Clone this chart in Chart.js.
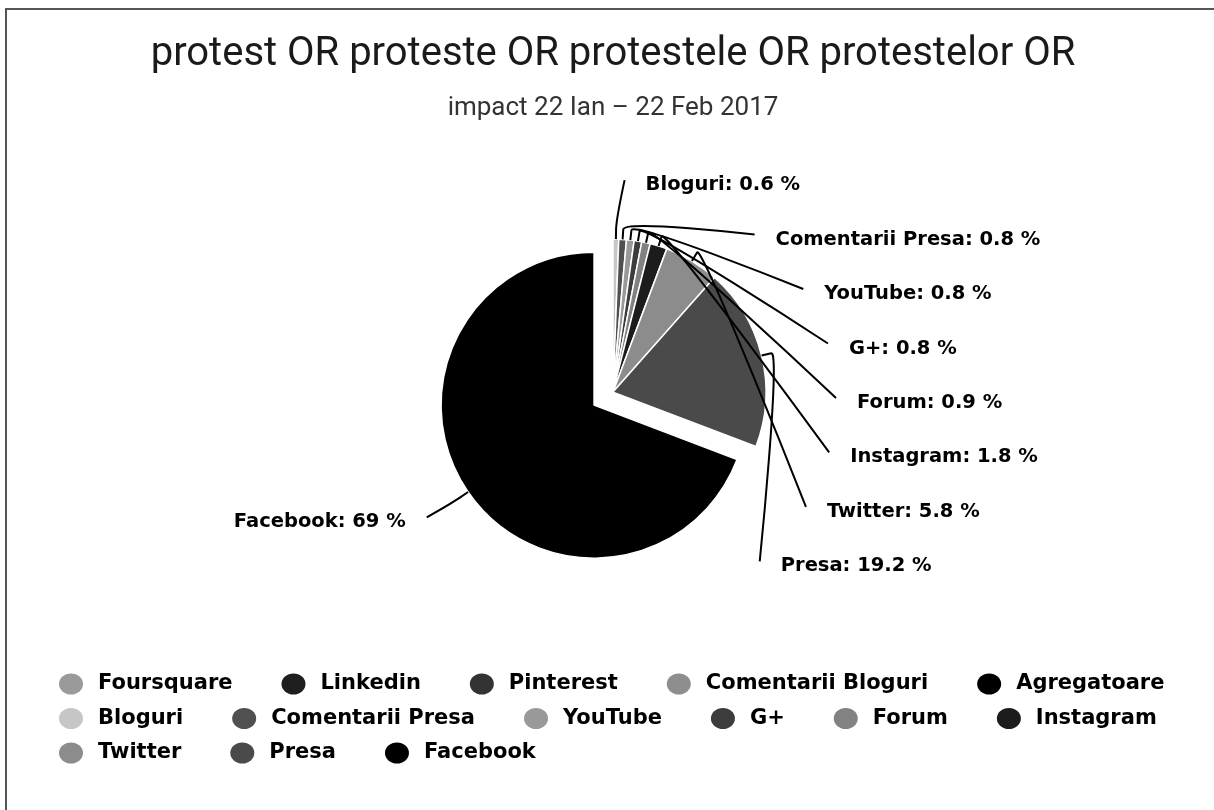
<!DOCTYPE html>
<html>
<head>
<meta charset="utf-8">
<title>protest - impact</title>
<script src="https://cdn.jsdelivr.net/npm/chart.js@4.4.1/dist/chart.umd.min.js"></script>
<style>
  html, body { margin: 0; padding: 0; background: #fff; }
  #wrap { position: relative; width: 1214px; height: 810px; overflow: hidden; }
  #pie { position: absolute; left: 0; top: 0; display: block; }
  #frame { position: absolute; left: 5px; top: 8px; width: 1300px; height: 900px;
           border-left: 2px solid #555; border-top: 2px solid #555; pointer-events: none; }
</style>
</head>
<body>
<div id="wrap">
  <canvas id="pie" width="1214" height="810"></canvas>
  <div id="frame"></div>
</div>
<script>
const sources = ['Foursquare', 'Linkedin', 'Pinterest', 'Comentarii Bloguri', 'Agregatoare',
                 'Bloguri', 'Comentarii Presa', 'YouTube', 'G+', 'Forum', 'Instagram',
                 'Twitter', 'Presa', 'Facebook'];
const shares = [0, 0, 0, 0, 0, 0.6, 0.8, 0.8, 0.8, 0.9, 1.8, 5.8, 19.2, 69];
const shades = ['#9a9a9a', '#1e1e1e', '#333333', '#8e8e8e', '#000000',
                '#c6c6c6', '#505050', '#999999', '#3c3c3c', '#828282', '#1c1c1c',
                '#8c8c8c', '#4a4a4a', '#000000'];
// only Facebook is pulled out of the pie
const sliced = [0, 0, 0, 0, 0, 0, 0, 0, 0, 0, 0, 0, 0, 1];

const titleText = 'protest OR proteste OR protestele OR protestelor OR';
const subtitleText = 'impact 22 Ian \u2013 22 Feb 2017';

// move sliced arcs outward along their middle angle (like a "sliced" point)
const slicePlugin = {
    id: 'slicePlugin',
    afterDatasetUpdate(chart, args, opts) {
        args.meta.data.forEach((arc, i) => {
            if (!sliced[i]) return;
            const mid = (arc.startAngle + arc.endAngle) / 2;
            arc.x += Math.cos(mid) * opts.distance;
            arc.y += Math.sin(mid) * opts.distance;
        });
    }
};

function spread(items, top, bottom, gap) {
    items.sort((a, b) => a.ideal - b.ideal);
    let prev = -Infinity;
    items.forEach(it => {
        it.y = Math.max(it.ideal, top, prev + gap);
        prev = it.y;
    });
    let next = Infinity;
    for (let k = items.length - 1; k >= 0; k--) {
        items[k].y = Math.min(items[k].y, bottom, next - gap);
        next = items[k].y;
    }
}

// data labels with soft connectors
const pieLabels = {
    id: 'pieLabels',
    afterDatasetsDraw(chart, args, o) {
        const ctx = chart.ctx;
        const meta = chart.getDatasetMeta(0);
        const area = chart.chartArea;
        const cx = (area.left + area.right) / 2;
        const cy = (area.top + area.bottom) / 2;
        const r = meta.data[meta.data.length - 1].outerRadius;
        const right = [];
        const left = [];

        meta.data.forEach((arc, i) => {
            if (!shares[i]) return;
            const mid = (arc.startAngle + arc.endAngle) / 2;
            const item = { i, arc, mid, ideal: cy + Math.sin(mid) * r * (1 + o.distance) };
            (Math.cos(mid) >= 0 ? right : left).push(item);
        });
        spread(right, cy - o.top * r, cy + o.bottom * r, o.gap * r);
        spread(left, cy - o.top * r, cy + o.bottom * r, o.gap * r);

        ctx.save();
        ctx.font = o.font;
        ctx.textBaseline = 'middle';
        ctx.strokeStyle = o.lineColor;
        ctx.lineWidth = o.lineWidth;
        ctx.fillStyle = o.color;

        const curveY = cy + o.curveShift * r;
        const draw = (it, side) => {
            const t = Math.max(0, 1 - Math.pow((it.y - curveY) / (o.curveB * r), 2));
            const tx = cx + side * o.curveA * r * Math.sqrt(t);
            const arc = it.arc;
            const rr = arc.outerRadius;
            const cos = Math.cos(it.mid);
            const sin = Math.sin(it.mid);
            const touch = { x: arc.x + cos * rr, y: arc.y + sin * rr };
            const brk = { x: arc.x + cos * (rr + o.breakAt), y: arc.y + sin * (rr + o.breakAt) };
            const cp = { x: arc.x + cos * (rr + 2 * o.breakAt), y: arc.y + sin * (rr + 2 * o.breakAt) };
            const sx = tx - side * o.lineGap;
            const sy = it.y - o.lineRise;
            ctx.beginPath();
            ctx.moveTo(sx, sy);
            ctx.bezierCurveTo(sx, sy, cp.x, cp.y, brk.x, brk.y);
            ctx.lineTo(touch.x, touch.y);
            ctx.stroke();
            ctx.textAlign = side > 0 ? 'left' : 'right';
            ctx.fillText(sources[it.i] + ': ' + shares[it.i] + ' %', tx, it.y);
        };
        right.forEach(it => draw(it, 1));
        left.forEach(it => draw(it, -1));
        ctx.restore();
    }
};

// legend drawn in rows, left aligned like the original
const rowLegend = {
    id: 'rowLegend',
    afterDraw(chart, args, o) {
        const ctx = chart.ctx;
        ctx.save();
        ctx.font = o.font;
        ctx.textBaseline = 'middle';
        ctx.textAlign = 'left';
        let x = o.left;
        let y = chart.chartArea.bottom + o.offsetY;
        sources.forEach((name, i) => {
            const w = o.textOffset + ctx.measureText(name).width;
            if (x > o.left && x + w > o.maxRight) {
                x = o.left;
                y += o.rowGap;
            }
            ctx.fillStyle = shades[i];
            ctx.beginPath();
            ctx.ellipse(x + o.markerRx, y, o.markerRx, o.markerRy, 0, 0, Math.PI * 2);
            ctx.fill();
            ctx.fillStyle = o.color;
            ctx.fillText(name, x + o.textOffset, y);
            x += w + o.itemGap;
        });
        ctx.restore();
    }
};

new Chart(document.getElementById('pie'), {
    type: 'pie',
    data: {
        labels: sources,
        datasets: [{
            data: shares,
            backgroundColor: shades,
            borderColor: '#ffffff',
            borderWidth: 1.5,
            radius: 153
        }]
    },
    options: {
        responsive: false,
        devicePixelRatio: 1,
        animation: false,
        events: [],
        layout: {
            padding: { top: 0, left: 12, right: 0, bottom: 154 }
        },
        plugins: {
            legend: { display: false },
            tooltip: { enabled: false },
            title: {
                display: true,
                text: titleText,
                color: '#1a1a1a',
                font: { family: 'Roboto', size: 40, weight: 'normal', lineHeight: 1.2 },
                padding: { top: 31, bottom: 4 }
            },
            subtitle: {
                display: true,
                text: subtitleText,
                color: '#333333',
                font: { family: 'Roboto', size: 26, weight: 'normal', lineHeight: 1.2 },
                padding: { top: 10, bottom: 4 }
            },
            slicePlugin: { distance: 23 },
            pieLabels: {
                font: 'bold 19.5px "DejaVu Sans"',
                color: '#000000',
                lineColor: '#000000',
                lineWidth: 2,
                distance: 0.5,
                top: 1.353,
                bottom: 1.144,
                gap: 0.356,
                curveShift: 0.085,
                curveA: 1.595,
                curveB: 1.451,
                breakAt: 10,
                lineGap: 21,
                lineRise: 5
            },
            rowLegend: {
                font: 'bold 21px "DejaVu Sans"',
                color: '#000000',
                left: 59,
                offsetY: 28,
                rowGap: 34.5,
                markerRx: 12,
                markerRy: 10.5,
                textOffset: 39,
                itemGap: 49,
                maxRight: 1175
            }
        }
    },
    plugins: [slicePlugin, pieLabels, rowLegend]
});
</script>
</body>
</html>
